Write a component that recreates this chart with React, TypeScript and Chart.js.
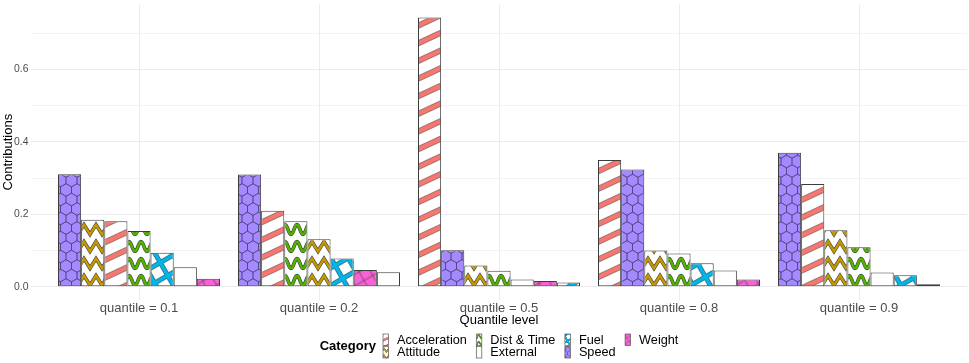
import React, { useEffect, useRef } from 'react';
import { Chart, registerables } from 'chart.js';

Chart.register(...registerables);

// ---------- data ----------
const quantileLabels = ['quantile = 0.1', 'quantile = 0.2', 'quantile = 0.5', 'quantile = 0.8', 'quantile = 0.9'];
const categories = ['Acceleration', 'Attitude', 'Dist & Time', 'External', 'Fuel', 'Speed', 'Weight'];

const acceleration = [0.181, 0.210, 0.744, 0.350, 0.284];
const attitude = [0.185, 0.131, 0.059, 0.100, 0.156];
const distTime = [0.154, 0.181, 0.044, 0.092, 0.109];
const external = [0.054, 0.040, 0.020, 0.045, 0.039];
const fuel = [0.094, 0.078, 0.012, 0.065, 0.032];
const speed = [0.311, 0.310, 0.101, 0.324, 0.370];
const weight = [0.022, 0.046, 0.016, 0.020, 0.007];

const yTickValues = [0, 0.1, 0.2, 0.3, 0.4, 0.5, 0.6, 0.7];
const yTickLabels = ['0.0', '', '0.2', '', '0.4', '', '0.6', ''];

const seriesValues = [acceleration, attitude, distTime, external, fuel, speed, weight];

const FONT = "'Liberation Sans', Arial, Helvetica, sans-serif";
const OUTLINE = '#3d3d3d';

// ---------- patterns ----------
function tile(w: number, h: number, draw: (g: CanvasRenderingContext2D) => void) {
  const c = document.createElement('canvas');
  c.width = w;
  c.height = h;
  const g = c.getContext('2d')!;
  draw(g);
  return c;
}

function makePattern(ctx: CanvasRenderingContext2D, t: HTMLCanvasElement, s: number, rot: number) {
  const p = ctx.createPattern(t, 'repeat')!;
  const m = new DOMMatrix().scale(s, s).rotate(rot);
  p.setTransform(m);
  return p;
}

function waveTile(color: string, sine: boolean) {
  const w = 12, h = 17, A = 4.8, c = 8.5;
  return tile(w, h, (g) => {
    g.fillStyle = '#ffffff';
    g.fillRect(0, 0, w, h);
    const path = (dy: number) => {
      g.beginPath();
      if (sine) {
        for (let x = -w; x <= 2 * w; x += 0.5) {
          const y = c + dy + A * Math.sin((2 * Math.PI * x) / w);
          if (x === -w) g.moveTo(x, y); else g.lineTo(x, y);
        }
      } else {
        let k = 0;
        for (let x = -w; x <= 2 * w; x += w / 2, k++) {
          const y = c + dy + (k % 2 === 0 ? -A : A);
          if (k === 0) g.moveTo(x, y); else g.lineTo(x, y);
        }
      }
    };
    g.lineJoin = 'miter';
    for (const dy of [-h, 0, h]) {
      path(dy);
      g.strokeStyle = OUTLINE;
      g.lineWidth = 3.6;
      g.stroke();
      path(dy);
      g.strokeStyle = color;
      g.lineWidth = 2.5;
      g.stroke();
    }
  });
}

function makePatterns(ctx: CanvasRenderingContext2D, s: number): (CanvasPattern | string)[] {
  const stripe = tile(16, 16, (g) => {
    g.fillStyle = '#ffffff';
    g.fillRect(0, 0, 16, 16);
    g.fillStyle = '#555555';
    g.fillRect(0, 5.2, 16, 5.6);
    g.fillStyle = '#F8766D';
    g.fillRect(0, 5.7, 16, 4.6);
  });
  const grid = tile(15, 15, (g) => {
    g.fillStyle = '#ffffff';
    g.fillRect(0, 0, 15, 15);
    g.fillStyle = '#444444';
    g.fillRect(0, 5.1, 15, 4.8);
    g.fillRect(5.1, 0, 4.8, 15);
    g.fillStyle = '#00B6EB';
    g.fillRect(0, 5.6, 15, 3.8);
    g.fillRect(5.6, 0, 3.8, 15);
  });
  const thinGrid = tile(10, 10, (g) => {
    g.fillStyle = '#FB61D7';
    g.fillRect(0, 0, 10, 10);
    g.fillStyle = 'rgba(60,60,60,0.75)';
    g.fillRect(0, 4.6, 10, 0.8);
    g.fillRect(4.6, 0, 0.8, 10);
  });
  const hw = 5.5;
  const a = 19 / 3;
  const hex = tile(11, 19, (g) => {
    g.fillStyle = '#A58AFF';
    g.fillRect(0, 0, 11, 19);
    g.strokeStyle = 'rgba(55,50,90,0.6)';
    g.lineWidth = 0.8;
    const drawHex = (cx: number, cy: number) => {
      g.beginPath();
      g.moveTo(cx, cy - a);
      g.lineTo(cx + hw, cy - a / 2);
      g.lineTo(cx + hw, cy + a / 2);
      g.lineTo(cx, cy + a);
      g.lineTo(cx - hw, cy + a / 2);
      g.lineTo(cx - hw, cy - a / 2);
      g.closePath();
      g.stroke();
    };
    for (const cx of [-11, 0, 11, 22]) for (const cy of [0, 19]) drawHex(cx, cy);
    for (const cx of [-5.5, 5.5, 16.5]) for (const cy of [-9.5, 9.5, 28.5]) drawHex(cx, cy);
  });
  return [
    makePattern(ctx, stripe, s, -25),
    makePattern(ctx, waveTile('#C49A00', false), s, 0),
    makePattern(ctx, waveTile('#53B400', true), s, 0),
    '#ffffff',
    makePattern(ctx, grid, s, -30),
    makePattern(ctx, hex, s, 0),
    makePattern(ctx, thinGrid, s, -30),
  ];
}

export default function App() {
  const ref = useRef<HTMLCanvasElement>(null);

  useEffect(() => {
    document.body.style.margin = '0';
    const canvas = ref.current!;
    const ctx = canvas.getContext('2d')!;
    const pats = makePatterns(ctx, 1);
    const keyPats = makePatterns(ctx, 0.4);

    const ranked = quantileLabels.map((_, g) =>
      categories.map((_, c) => c).sort((a, b) => seriesValues[b][g] - seriesValues[a][g])
    );

    const datasets = categories.map((_, r) => ({
      label: `rank ${r + 1}`,
      data: quantileLabels.map((_, g) => ({ x: g + 1, y: seriesValues[ranked[g][r]][g] })),
      backgroundColor: quantileLabels.map((_, g) => pats[ranked[g][r]]),
      borderColor: OUTLINE,
      borderWidth: 1,
      borderSkipped: false as const,
      categoryPercentage: 0.9,
      barPercentage: 1.0,
    }));

    const textPlugin = {
      id: 'textAndLegend',
      afterDraw(chart: any) {
        const c = chart.ctx as CanvasRenderingContext2D;
        const area = chart.chartArea;
        c.save();
        // y axis title
        c.fillStyle = '#000000';
        c.font = `13px ${FONT}`;
        c.textAlign = 'center';
        c.textBaseline = 'middle';
        c.save();
        c.translate(8, (area.top + area.bottom) / 2);
        c.rotate(-Math.PI / 2);
        c.fillText('Contributions', 0, 0);
        c.restore();
        // x axis title
        const cx = (area.left + area.right) / 2;
        c.fillText('Quantile level', cx, 320.5);

        // legend
        const titleFont = `bold 13px ${FONT}`;
        const itemFont = `12.7px ${FONT}`;
        c.font = titleFont;
        const tW = c.measureText('Category').width;
        const columns = [[0, 1], [2, 3], [4, 5], [6]];
        c.font = itemFont;
        const colW = columns.map((col) => Math.max(...col.map((i) => c.measureText(categories[i]).width)));
        const keyW = 5.5, keyGap = 8.5, colGap = 9.5, titleGap = 7;
        const total = tW + titleGap + colW.reduce((s, w) => s + keyW + keyGap + w, 0) + colGap * (columns.length - 1);
        let x = cx - total / 2;
        const rowMid = [340, 352.5];
        const keyTop = [334, 346.5];
        const keyH = 11.5;
        c.font = titleFont;
        c.textAlign = 'left';
        c.fillText('Category', x, 346.3);
        x += tW + titleGap;
        columns.forEach((col, ci) => {
          col.forEach((cat, ri) => {
            c.fillStyle = keyPats[cat] as any;
            c.fillRect(x, keyTop[ri], keyW, keyH);
            c.strokeStyle = '#555555';
            c.lineWidth = 0.7;
            c.strokeRect(x, keyTop[ri], keyW, keyH);
            c.fillStyle = '#000000';
            c.font = itemFont;
            c.fillText(categories[cat], x + keyW + keyGap, rowMid[ri]);
          });
          x += keyW + keyGap + colW[ci] + colGap;
        });
        c.restore();
      },
    };

    const chart = new Chart(canvas, {
      type: 'bar',
      data: { datasets: datasets as any },
      options: {
        animation: false,
        responsive: false,
        events: [],
        layout: { padding: { top: 4, right: 2, left: 0, bottom: 0 } },
        plugins: { legend: { display: false }, tooltip: { enabled: false } },
        scales: {
          x: {
            type: 'linear',
            min: 0.4,
            max: 5.6,
            offset: false,
            afterBuildTicks: (axis: any) => {
              axis.ticks = quantileLabels.map((_, i) => ({ value: i + 1 }));
            },
            afterFit: (axis: any) => {
              axis.height = 62.8;
              axis.paddingLeft = 0;
              axis.paddingRight = 0;
            },
            grid: { color: '#EBEBEB', lineWidth: 1, drawTicks: false, offset: false },
            border: { display: false },
            ticks: {
              autoSkip: false,
              maxRotation: 0,
              padding: 0,
              color: '#4D4D4D',
              font: { size: 13, family: FONT },
              callback: (_v: any, i: number) => quantileLabels[i],
            },
          },
          y: {
            type: 'linear',
            min: -0.0372,
            max: 0.7812,
            afterBuildTicks: (axis: any) => {
              axis.ticks = yTickValues.map((v) => ({ value: v }));
            },
            afterFit: (axis: any) => {
              axis.width = 31;
              axis.paddingTop = 0;
              axis.paddingBottom = 0;
            },
            grid: {
              color: '#EBEBEB',
              lineWidth: (c: any) => (c.index % 2 === 0 ? 1 : 0.6),
              drawTicks: false,
            },
            border: { display: false },
            ticks: {
              autoSkip: false,
              padding: 2.5,
              color: '#4D4D4D',
              font: { size: 10.4, family: FONT },
              callback: (_v: any, i: number) => yTickLabels[i],
            },
          },
        },
      },
      plugins: [textPlugin],
    });

    return () => chart.destroy();
  }, []);

  return <canvas ref={ref} width={969} height={363} style={{ display: 'block', width: 969, height: 363 }} />;
}
